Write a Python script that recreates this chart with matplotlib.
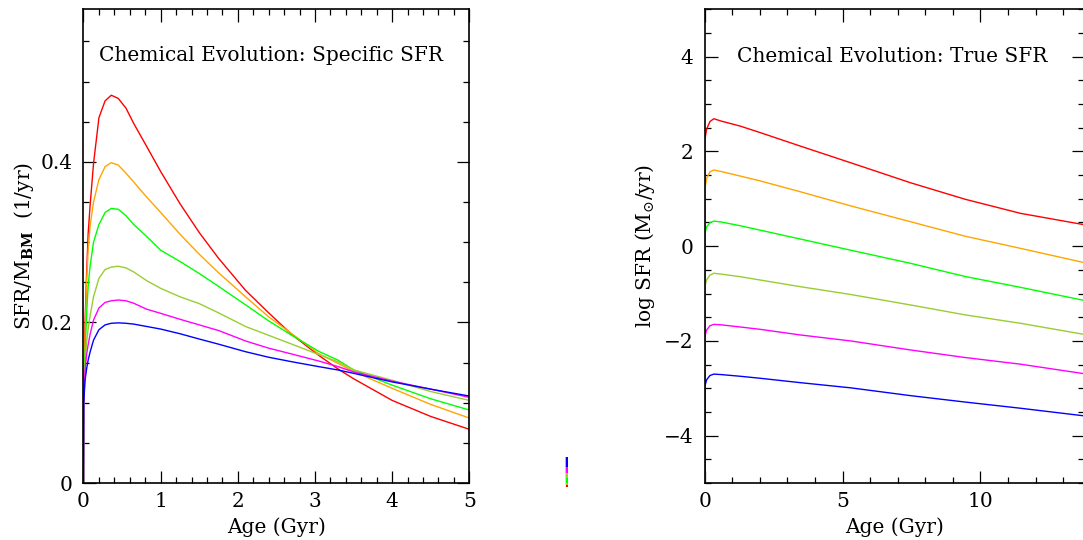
import matplotlib
matplotlib.use("Agg")
import matplotlib.pyplot as plt
from matplotlib.ticker import MultipleLocator, FixedLocator, FixedFormatter

plt.rcParams["font.family"] = ["DejaVu Serif"]
plt.rcParams["mathtext.fontset"] = "dejavuserif"

colors = ["red", "orange", "#00ff00", "yellowgreen", "magenta", "blue"]
fs = 14.5

# specific SFR (1/yr) vs age (Gyr)
age_spec = [0, 0.003, 0.02, 0.04, 0.06, 0.085, 0.13, 0.2, 0.28, 0.36, 0.45, 0.55, 0.65, 0.82,
            1.0, 1.25, 1.5, 1.75, 2.1, 2.4, 2.7, 3.05, 3.3, 3.5, 4.0, 4.5, 5.0]
spec_red = [0, 0.10, 0.2, 0.26, 0.31, 0.345, 0.398, 0.455, 0.476, 0.483, 0.479, 0.467, 0.448, 0.419,
            0.388, 0.348, 0.312, 0.28, 0.24, 0.212, 0.185, 0.159, 0.142, 0.130, 0.103, 0.083, 0.067]
spec_orange = [0, 0.10, 0.18, 0.25, 0.29, 0.32, 0.35, 0.378, 0.394, 0.399, 0.396, 0.386, 0.375, 0.356,
               0.337, 0.31, 0.285, 0.262, 0.232, 0.207, 0.186, 0.161, 0.149, 0.139, 0.118, 0.098, 0.081]
spec_green = [0, 0.10, 0.16, 0.21, 0.245, 0.27, 0.30, 0.322, 0.337, 0.342, 0.341, 0.333, 0.322, 0.307,
              0.290, 0.276, 0.261, 0.245, 0.222, 0.202, 0.184, 0.164, 0.153, 0.141, 0.122, 0.105, 0.091]
spec_yg = [0, 0.10, 0.15, 0.175, 0.192, 0.208, 0.232, 0.255, 0.266, 0.269, 0.270, 0.268, 0.263, 0.252,
           0.2425, 0.232, 0.2235, 0.212, 0.195, 0.184, 0.173, 0.160, 0.151, 0.141, 0.128, 0.114, 0.103]
spec_magenta = [0, 0.10, 0.14, 0.16, 0.172, 0.185, 0.203, 0.218, 0.225, 0.227, 0.228, 0.227, 0.224, 0.2165,
                0.2114, 0.204, 0.197, 0.19, 0.177, 0.168, 0.1607, 0.152, 0.145, 0.1385, 0.127, 0.117, 0.1068]
spec_blue = [0, 0.10, 0.128, 0.142, 0.153, 0.163, 0.178, 0.191, 0.197, 0.199, 0.1995, 0.199, 0.198, 0.195,
             0.1918, 0.186, 0.1794, 0.173, 0.1636, 0.1567, 0.1511, 0.145, 0.1408, 0.1367, 0.126, 0.117, 0.1084]

# log true SFR (Msun/yr) vs age (Gyr)
age_true = [0, 0.004, 0.07, 0.19, 0.33, 0.6, 1.28, 2.0, 3.46, 5.3, 7.46, 9.45, 11.45, 13.75]
true_red = [-5, 2.25, 2.47, 2.63, 2.69, 2.64, 2.536, 2.40, 2.114, 1.76, 1.34, 0.99, 0.694, 0.455]
true_orange = [-5, 1.2, 1.43, 1.57, 1.608, 1.576, 1.481, 1.38, 1.15, 0.85, 0.517, 0.21, -0.045, -0.345]
true_green = [-5, 0.25, 0.41, 0.496, 0.53, 0.51, 0.433, 0.34, 0.152, -0.085, -0.361, -0.64, -0.868, -1.143]
true_yg = [-5, -0.85, -0.71, -0.61, -0.572, -0.59, -0.643, -0.713, -0.854, -1.02, -1.24, -1.45, -1.627, -1.86]
true_magenta = [-5, -1.91, -1.77, -1.68, -1.65, -1.66, -1.705, -1.754, -1.873, -2.0, -2.19, -2.35, -2.49, -2.69]
true_blue = [-5, -2.96, -2.82, -2.73, -2.70, -2.71, -2.745, -2.787, -2.88, -2.99, -3.154, -3.29, -3.42, -3.58]

# little colour stub between the panels (depth from its top)
stub_depth = [1.0, 0.944, 0.867, 0.72, 0.533, 0.333]

spec = [spec_red, spec_orange, spec_green, spec_yg, spec_magenta, spec_blue]
true = [true_red, true_orange, true_green, true_yg, true_magenta, true_blue]

fig = plt.figure(figsize=(10.83, 5.4), dpi=100)
ax1 = fig.add_axes([0.0771, 0.1054, 0.3562, 0.8774])
ax2 = fig.add_axes([0.6507, 0.1054, 0.3500, 0.8774])
ax3 = fig.add_axes([0.5217, 0.0987, 0.0028, 0.0556])

for ys, c in zip(spec, colors):
    ax1.plot(age_spec, ys, color=c, lw=1.0)
for ys, c in zip(true, colors):
    ax2.plot(age_true, ys, color=c, lw=1.0)
for d, c in zip(stub_depth, colors):
    ax3.plot([0.5, 0.5], [0, d], color=c, lw=1.6, solid_capstyle="butt")
ax3.set_xlim(0, 1)
ax3.set_ylim(1, 0)
ax3.axis("off")

ax1.set_xlim(0, 5)
ax1.set_ylim(0, 0.59)
ax1.xaxis.set_major_locator(MultipleLocator(1))
ax1.xaxis.set_minor_locator(MultipleLocator(0.2))
ax1.yaxis.set_major_locator(FixedLocator([0, 0.2, 0.4]))
ax1.yaxis.set_major_formatter(FixedFormatter(["0", "0.2", "0.4"]))
ax1.yaxis.set_minor_locator(MultipleLocator(0.05))

ax2.set_xlim(0, 13.75)
ax2.set_ylim(-5, 5)
ax2.xaxis.set_major_locator(MultipleLocator(5))
ax2.xaxis.set_minor_locator(MultipleLocator(1))
ax2.yaxis.set_major_locator(MultipleLocator(2))
ax2.yaxis.set_minor_locator(MultipleLocator(0.5))

for ax in (ax1, ax2):
    for s in ax.spines.values():
        s.set_linewidth(1.2)
    ax.tick_params(which="both", direction="in", top=True, right=True, width=0.9, labelsize=fs)
    ax.tick_params(which="major", length=9)
    ax.tick_params(which="minor", length=4.5)
    ax.tick_params(axis="y", pad=8)
    ax.tick_params(axis="x", pad=6.5)
    ax.set_xlabel("Age (Gyr)", fontsize=fs)
    ax.xaxis.set_label_coords(0.5, -0.072)

ax1.set_ylabel(r"SFR/M$_{\mathbf{BM}}$  (1/yr)", fontsize=fs)
ax1.yaxis.set_label_coords(-0.124, 0.5)
ax2.set_ylabel(r"log SFR (M$_{\odot}$/yr)", fontsize=fs)
ax2.yaxis.set_label_coords(-0.126, 0.5)

ax1.text(0.04, 0.9035, "Chemical Evolution: Specific SFR", transform=ax1.transAxes,
         fontsize=fs, ha="left", va="center")
ax2.text(0.086, 0.90, "Chemical Evolution: True SFR", transform=ax2.transAxes,
         fontsize=fs, ha="left", va="center")

fig.savefig("out.png", dpi=100)
